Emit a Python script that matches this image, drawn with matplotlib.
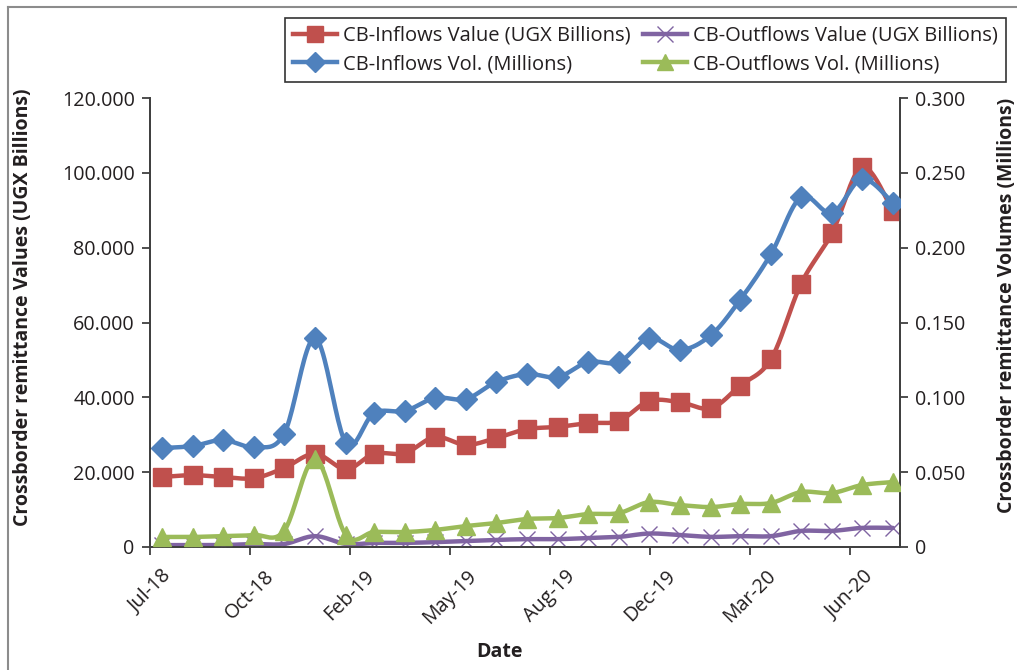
import numpy as np
import pandas as pd
import matplotlib
matplotlib.use("Agg")
import matplotlib.pyplot as plt
import matplotlib.dates as mdates
from matplotlib.lines import Line2D

plt.rcParams['font.family'] = ['Open Sans', 'DejaVu Sans']

# Monthly cross-border remittance data, Jul-2018 .. Jul-2020 (month end)
dates = pd.date_range("2018-07-31", "2020-07-31", freq="ME")

inflows_value = [18.7, 19.2, 18.7, 18.4, 21.1, 24.9, 20.8, 24.9, 25.1, 29.4,
                 27.3, 29.1, 31.5, 32.1, 33.1, 33.7, 39.0, 38.7, 37.1, 43.1,
                 50.2, 70.3, 83.9, 101.5, 89.8]
outflows_value = [0.5, 0.5, 0.5, 0.8, 0.8, 2.9, 0.8, 1.1, 1.1, 1.3,
                  1.6, 1.9, 2.1, 2.1, 2.4, 2.7, 3.6, 3.2, 2.7, 2.9,
                  2.9, 4.3, 4.3, 5.1, 5.1]
inflows_vol = [0.0661, 0.0675, 0.0715, 0.0668, 0.0755, 0.1396, 0.0695, 0.0895,
               0.0909, 0.0996, 0.0989, 0.1102, 0.1156, 0.1136, 0.1236, 0.1236,
               0.1396, 0.1316, 0.1416, 0.1650, 0.1958, 0.2338, 0.2232, 0.2459,
               0.2298]
outflows_vol = [0.0067, 0.0067, 0.0073, 0.0080, 0.0107, 0.0588, 0.0080, 0.0100,
                0.0100, 0.0114, 0.0140, 0.0160, 0.0187, 0.0194, 0.0220, 0.0227,
                0.0300, 0.0280, 0.0267, 0.0287, 0.0294, 0.0367, 0.0361, 0.0414,
                0.0434]

left_ticks = [0, 20, 40, 60, 80, 100, 120]
right_ticks = [0, 0.05, 0.10, 0.15, 0.20, 0.25, 0.30]

RED, BLUE, PURPLE, GREEN = "#C0504D", "#4F81BD", "#8064A2", "#9BBB59"
AXIS_COLOR = "#404040"
TEXT_COLOR = "#231F20"


def smooth(x, y, n=24):
    """Bezier smoothing through every point (Catmull-Rom style control points)."""
    pts = np.column_stack([x, y]).astype(float)
    P = np.vstack([pts[0], pts, pts[-1]])
    t = np.linspace(0, 1, n)[:, None]
    out = []
    for i in range(len(pts) - 1):
        p0, p1, p2, p3 = P[i], P[i + 1], P[i + 2], P[i + 3]
        c1 = p1 + (p2 - p0) / 6.0
        c2 = p2 - (p3 - p1) / 6.0
        seg = ((1 - t) ** 3) * p1 + 3 * ((1 - t) ** 2) * t * c1 \
            + 3 * (1 - t) * t ** 2 * c2 + t ** 3 * p2
        out.append(seg if i == 0 else seg[1:])
    s = np.vstack(out)
    return s[:, 0], s[:, 1]


W, H = 1017, 670
fig = plt.figure(figsize=(W / 100, H / 100), dpi=100)
ax = fig.add_axes([150 / W, 1 - 547 / H, 750 / W, 449 / H])
ax2 = ax.twinx()

xn = mdates.date2num(dates)
lw = 3.2

styles = [
    (ax, inflows_value, RED, dict(marker="s", ms=12.5)),
    (ax, outflows_value, PURPLE, dict(marker="x", ms=11, mew=1.0)),
    (ax2, inflows_vol, BLUE, dict(marker="D", ms=11)),
    (ax2, outflows_vol, GREEN, dict(marker="^", ms=13)),
]
for a, vals, col, mk in styles:
    sx, sy = smooth(xn, vals)
    a.plot(sx, sy, color=col, lw=lw, solid_capstyle="round", zorder=2)
    a.plot(xn, vals, linestyle="none", color=col, mec=col, mfc=col, zorder=3, **mk)

# x axis: ticks every 100 days
x0 = mdates.date2num(pd.Timestamp("2018-07-19"))
ax.set_xlim(x0, x0 + 750)
ax.set_xticks([x0 + 100 * k for k in range(8)])
ax.xaxis.set_major_formatter(mdates.DateFormatter("%b-%y"))

ax.set_ylim(0, 120)
ax.set_yticks(left_ticks)
ax.set_yticklabels(["0" if v == 0 else f"{v:.3f}" for v in left_ticks])
ax2.set_ylim(0, 0.30)
ax2.set_yticks(right_ticks)
ax2.set_yticklabels(["0" if v == 0 else f"{v:.3f}" for v in right_ticks])

for a in (ax, ax2):
    a.spines["top"].set_visible(False)
    for s in ("left", "right", "bottom"):
        a.spines[s].set_color(AXIS_COLOR)
        a.spines[s].set_linewidth(1.3)
    a.tick_params(axis="both", direction="out", length=6, width=1.3,
                  color=AXIS_COLOR, labelsize=14.2, labelcolor=TEXT_COLOR)
ax.tick_params(axis="y", pad=5)
ax2.tick_params(axis="y", pad=5)
ax.tick_params(axis="x", pad=8)
for lab in ax.get_xticklabels():
    lab.set_rotation(45)
    lab.set_ha("center")
    lab.set_va("top")

ax.set_ylabel("Crossborder remittance Values (UGX Billions)", fontsize=14,
              fontweight="bold", color=TEXT_COLOR)
ax2.set_ylabel("Crossborder remittance Volumes (Millions)", fontsize=14,
               fontweight="bold", color=TEXT_COLOR)
ax.yaxis.set_label_coords((33 - 150) / 750, (547 - 307) / 449)
ax2.yaxis.set_label_coords((997 - 150) / 750, (547 - 305) / 449)
fig.text(500 / W, 1 - 652 / H, "Date", fontsize=14, fontweight="bold",
         color=TEXT_COLOR, ha="center", va="center")

# legend
handles = [
    Line2D([], [], color=RED, lw=lw, marker="s", ms=11),
    Line2D([], [], color=BLUE, lw=lw, marker="D", ms=10),
    Line2D([], [], color=PURPLE, lw=lw, marker="x", ms=11, mew=1.0),
    Line2D([], [], color=GREEN, lw=lw, marker="^", ms=11),
]
labels = ["CB-Inflows Value (UGX Billions)", "CB-Inflows Vol. (Millions)",
          "CB-Outflows Value (UGX Billions)", "CB-Outflows Vol. (Millions)"]
leg = fig.legend(handles, labels, loc="upper left",
                 bbox_to_anchor=(285 / W, 1 - 18 / H), ncol=2, fontsize=14.5,
                 frameon=True, fancybox=False, edgecolor="#000000",
                 handlelength=2.2, handletextpad=0.3, columnspacing=0.6,
                 labelspacing=0.42, borderpad=0.38, borderaxespad=0,
                 labelcolor=TEXT_COLOR)
leg.get_frame().set_linewidth(1.2)

# outer chart border
fig.add_artist(Line2D([8 / W, 8 / W], [0, 1 - 7 / H], transform=fig.transFigure,
                      color="#8C8C8C", lw=1.5))
fig.add_artist(Line2D([8 / W, 1], [1 - 7 / H, 1 - 7 / H], transform=fig.transFigure,
                      color="#8C8C8C", lw=1.5))

fig.savefig("out.png", dpi=100)
